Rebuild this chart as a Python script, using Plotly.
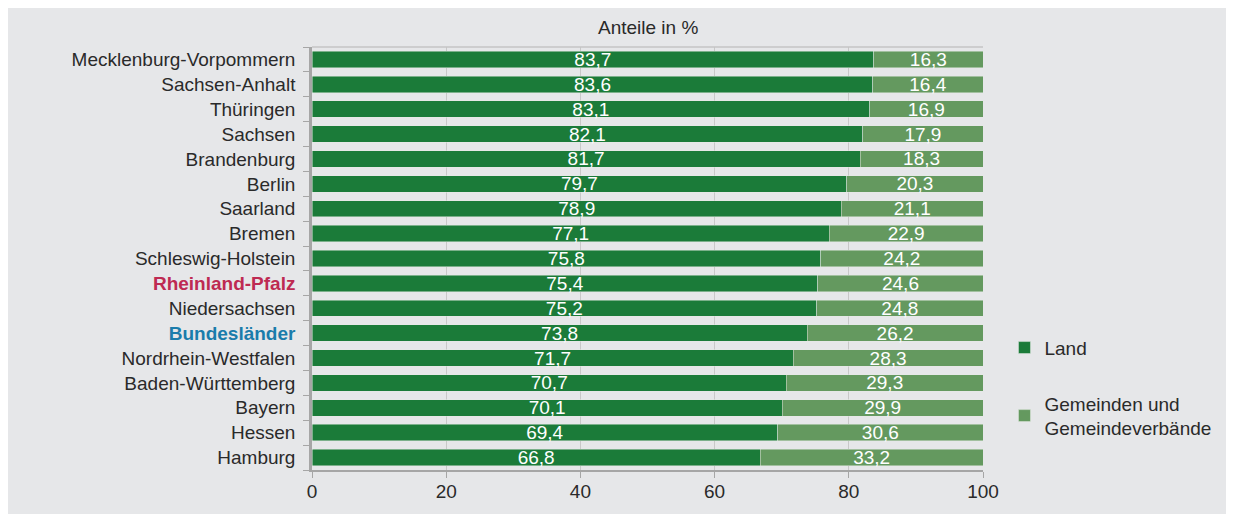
import plotly.graph_objects as go

# Anteile Land / Gemeinden je Bundesland (in %)
laender = [
    "Mecklenburg-Vorpommern", "Sachsen-Anhalt", "Thüringen", "Sachsen",
    "Brandenburg", "Berlin", "Saarland", "Bremen", "Schleswig-Holstein",
    "Rheinland-Pfalz", "Niedersachsen", "Bundesländer", "Nordrhein-Westfalen",
    "Baden-Württemberg", "Bayern", "Hessen", "Hamburg",
]
land = [83.7, 83.6, 83.1, 82.1, 81.7, 79.7, 78.9, 77.1, 75.8, 75.4, 75.2,
        73.8, 71.7, 70.7, 70.1, 69.4, 66.8]
gemeinden = [16.3, 16.4, 16.9, 17.9, 18.3, 20.3, 21.1, 22.9, 24.2, 24.6,
             24.8, 26.2, 28.3, 29.3, 29.9, 30.6, 33.2]
x_ticks = [0, 20, 40, 60, 80, 100]

_BG = "#E6E7E9"
_LAND = "#1B7B39"
_GEM = "#64995F"
_TXT = "#2A2A2A"
_FONT = "Liberation Sans, Arial, sans-serif"
_FS = 19

# hervorgehobene Kategorien
_HL = {
    "Rheinland-Pfalz": "#BE2A52",
    "Bundesländer": "#1A7CAB",
}
ticktext = [
    f"<b><span style='color:{_HL[n]}'>{n}</span></b>" if n in _HL else n
    for n in laender
]

fig = go.Figure()
for vals, name, col, grp in [(land, "Land", _LAND, "a"),
                             (gemeinden, "Gemeinden und<br>Gemeindeverbände", _GEM, "b")]:
    fig.add_trace(go.Bar(
        y=laender, x=vals, orientation="h", name=name, legendgroup=grp,
        marker=dict(color=col, line=dict(color="rgba(230,235,230,0.6)", width=0.8)),
        texttemplate="%{x:.1f}", textposition="inside",
        insidetextanchor="middle", textangle=0, constraintext="none",
        textfont=dict(color="white", size=_FS, family=_FONT),
    ))

# Titel über der Zeichenfläche
fig.add_annotation(text="Anteile in %", x=0.5, y=1.047, xref="paper", yref="paper",
                   showarrow=False, yanchor="middle",
                   font=dict(size=_FS, color=_TXT, family=_FONT))

# obere Rahmenlinie
fig.add_shape(type="line", xref="paper", yref="paper",
              x0=0, x1=1, y0=1, y1=1, line=dict(color="#C4C4C4", width=1.5))

fig.update_xaxes(
    range=[0, 100], tickvals=x_ticks, ticks="outside", ticklen=6,
    tickcolor="#A6A6A6", showline=True, linecolor="#A6A6A6", linewidth=2,
    showgrid=True, gridcolor="#C8C8C8", gridwidth=1, zeroline=False,
    tickfont=dict(size=_FS, color=_TXT, family=_FONT), ticklabelstandoff=-3,
)
fig.update_yaxes(
    autorange="reversed", tickmode="array", tickvals=laender, ticktext=ticktext,
    ticks="outside", tickson="boundaries", ticklen=6, tickcolor="#A6A6A6",
    showline=True, linecolor="#A6A6A6", linewidth=2.5, showgrid=False,
    tickfont=dict(size=_FS, color=_TXT, family=_FONT), ticklabelstandoff=10,
)

fig.update_layout(
    barmode="stack", bargap=0.34,
    width=1228, height=506,
    margin=dict(l=304, r=253, t=39, b=42),
    paper_bgcolor=_BG, plot_bgcolor=_BG,
    separators=",.",
    font=dict(family=_FONT, size=_FS, color=_TXT),
    legend=dict(x=1.032, xanchor="left", y=0.334, yanchor="top",
                tracegroupgap=28, bgcolor="rgba(0,0,0,0)",
                font=dict(size=_FS, color=_TXT, family=_FONT)),
    showlegend=True,
)

fig.write_html("out.html")
